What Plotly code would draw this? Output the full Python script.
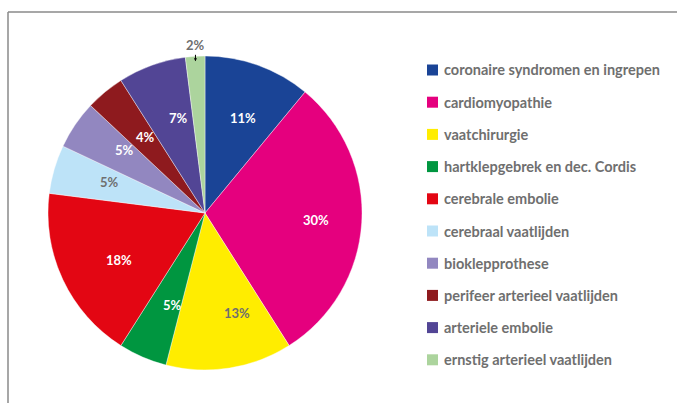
import numpy as np
import plotly.graph_objects as go

## Data:
# ======================================
labels = ['coronaire syndromen en ingrepen', 'cardiomyopathie', 'vaatchirurgie',
          'hartklepgebrek en dec. Cordis', 'cerebrale embolie', 'cerebraal vaatlijden',
          'bioklepprothese', 'perifeer arterieel vaatlijden', 'arteriele embolie',
          'ernstig arterieel vaatlijden']
values = [11, 30, 13, 5, 18, 5, 5, 4, 7, 2]
colors = ['#1a4496', '#e5007e', '#ffed00', '#009640', '#e30613',
          '#bde3f8', '#9287c0', '#8e1a1e', '#524595', '#acd49d']

W, H = 677, 403
grey = '#6f6f6f'
font_family = 'Lato'

## Pie geometry (pixels):
# --------------------------------------
cx, cy, R = 205, 213, 157
label_r = 0.71 * R

text_colors = ['white', 'white', grey, 'white', 'white', grey, 'white', 'white', 'white', grey]

fig = go.Figure()
fig.add_trace(go.Pie(
    labels=labels,
    values=values,
    sort=False,
    direction='clockwise',
    rotation=0,
    marker=dict(colors=colors, line=dict(color='white', width=0.4)),
    textinfo='none',
    domain=dict(x=[(cx - R) / W, (cx + R) / W], y=[1 - (cy + R) / H, 1 - (cy - R) / H]),
    showlegend=False,
    hoverinfo='label+percent',
))

## Percentage labels (hoek uit cumulatieve waarden):
# --------------------------------------
cum = np.cumsum([0] + values)
total = cum[-1]
i_small = len(values) - 1
for i, v in enumerate(values):
    theta = 2 * np.pi * (cum[i] + v / 2) / total
    font = dict(family=font_family, size=13, color=text_colors[i], weight='bold')
    if i == i_small:
        # kleinste segment: label erboven met pijl
        tip_x = cx + (R - 5) * np.sin(theta)
        tip_y = cy - (R - 5) * np.cos(theta)
        fig.add_annotation(
            x=tip_x / W, y=1 - tip_y / H, xref='paper', yref='paper',
            text=f'{v}%', showarrow=True, arrowhead=2, arrowsize=0.6,
            arrowwidth=1, arrowcolor='black', ax=0, ay=-16, font=font)
    else:
        px = cx + label_r * np.sin(theta)
        py = cy - label_r * np.cos(theta)
        fig.add_annotation(x=px / W, y=1 - py / H, xref='paper', yref='paper',
                           text=f'{v}%', showarrow=False, font=font)

## Legenda:
# --------------------------------------
leg_x, leg_y0, leg_dy, sq = 427, 70, 32.2, 11
for i, (lab, col) in enumerate(zip(labels, colors)):
    yc = leg_y0 + i * leg_dy
    fig.add_shape(type='rect', xref='paper', yref='paper',
                  x0=leg_x / W, x1=(leg_x + sq) / W,
                  y0=1 - (yc + sq / 2) / H, y1=1 - (yc - sq / 2) / H,
                  fillcolor=col, line=dict(width=0))
    fig.add_annotation(x=(leg_x + sq + 4) / W, y=1 - yc / H, xref='paper', yref='paper',
                       text=lab, showarrow=False, xanchor='left', yanchor='middle',
                       font=dict(family=font_family, size=14.5, color=grey, weight='bold'))

## Kader (boven en links):
# --------------------------------------
fig.add_shape(type='line', xref='paper', yref='paper', x0=8 / W, x1=1, y0=1 - 12 / H, y1=1 - 12 / H,
              line=dict(color='#8a8a8a', width=1.5))
fig.add_shape(type='line', xref='paper', yref='paper', x0=8 / W, x1=8 / W, y0=0, y1=1 - 12 / H,
              line=dict(color='#8a8a8a', width=1.5))

fig.update_layout(
    width=W, height=H,
    margin=dict(l=0, r=0, t=0, b=0),
    paper_bgcolor='white', plot_bgcolor='white',
    showlegend=False,
)

fig.write_html("out.html", config={'displayModeBar': False},
               post_script="document.body.style.margin='0';")
